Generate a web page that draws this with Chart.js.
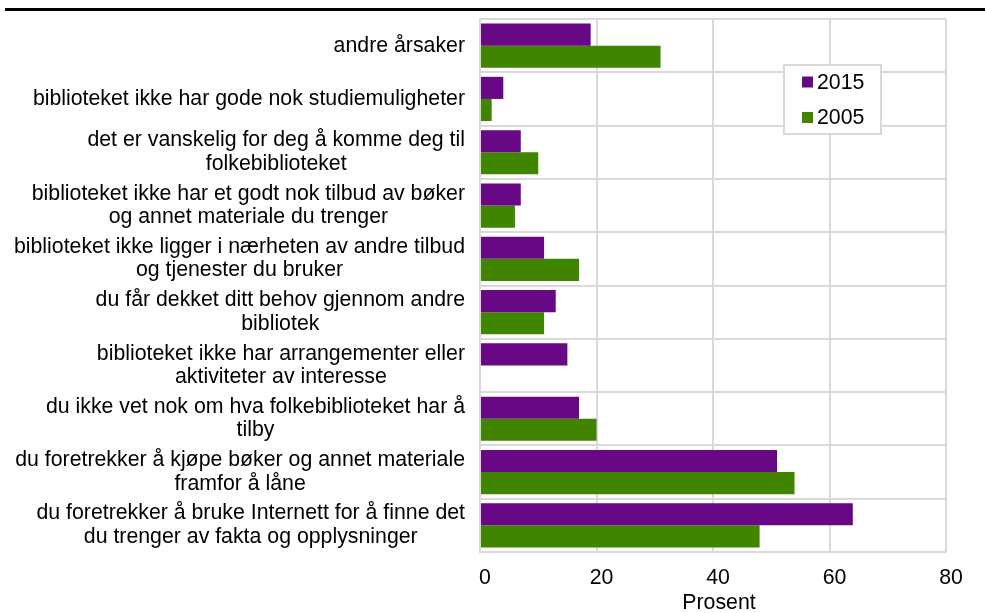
<!DOCTYPE html>
<html>
<head>
<meta charset="utf-8">
<script src="https://cdn.jsdelivr.net/npm/chart.js@4/dist/chart.umd.min.js"></script>
<style>
html,body{margin:0;padding:0;background:#fff;}
canvas{display:block;}
</style>
</head>
<body>
<canvas id="c" width="985" height="613"></canvas>
<script>
const categories = [
  ['andre årsaker'],
  ['biblioteket ikke har gode nok studiemuligheter'],
  ['det er vanskelig for deg å komme deg til', 'folkebiblioteket'],
  ['biblioteket ikke har et godt nok tilbud av bøker', 'og annet materiale du trenger'],
  ['biblioteket ikke ligger i nærheten av andre tilbud', 'og tjenester du bruker'],
  ['du får dekket ditt behov gjennom andre', 'bibliotek'],
  ['biblioteket ikke har arrangementer eller', 'aktiviteter av interesse'],
  ['du ikke vet nok om hva folkebiblioteket har å', 'tilby'],
  ['du foretrekker å kjøpe bøker og annet materiale', 'framfor å låne'],
  ['du foretrekker å bruke Internett for å finne det', 'du trenger av fakta og opplysninger']
];
const seriesNames = ['2015', '2005'];
const values2015 = [19, 4, 7, 7, 11, 13, 15, 17, 51, 64];
const values2005 = [31, 2, 10, 6, 17, 11, null, 20, 54, 48];
const xTicks = [0, 20, 40, 60, 80];
const axisTitle = 'Prosent';

const PURPLE = '#680884';
const GREEN = '#408400';
const GRID = '#d9d9d9';
const FONT = "'Liberation Sans', Arial, sans-serif";
const FS = 21.3;

const topRulePlugin = {
  id: 'topRule',
  beforeDraw(chart) {
    const ctx = chart.ctx;
    ctx.save();
    ctx.fillStyle = '#000';
    ctx.fillRect(5, 8, 980, 3);
    ctx.restore();
  }
};

const yLabelPlugin = {
  id: 'yLabels',
  afterDraw(chart) {
    const ctx = chart.ctx;
    const ys = chart.scales.y;
    const right = chart.chartArea.left - 15;
    const lh = 23.5;
    ctx.save();
    ctx.font = FS + 'px ' + FONT;
    ctx.fillStyle = '#000';
    ctx.textAlign = 'center';
    ctx.textBaseline = 'middle';
    categories.forEach((lines, i) => {
      const cy = ys.getPixelForTick(i);
      let w = 0;
      lines.forEach(l => { w = Math.max(w, ctx.measureText(l).width); });
      const cx = right - w / 2;
      const y0 = cy - (lines.length - 1) * lh / 2;
      lines.forEach((l, k) => ctx.fillText(l, cx, y0 + k * lh));
    });
    // x-axis title
    const ca = chart.chartArea;
    ctx.fillText(axisTitle, (ca.left + ca.right) / 2 + 6, 603);
    ctx.restore();
  }
};

const legendPlugin = {
  id: 'boxLegend',
  afterDraw(chart) {
    const ctx = chart.ctx;
    ctx.save();
    ctx.fillStyle = '#fff';
    ctx.fillRect(784, 65, 97, 69);
    ctx.strokeStyle = GRID;
    ctx.lineWidth = 2;
    ctx.strokeRect(784, 65, 97, 69);
    ctx.font = FS + 'px ' + FONT;
    ctx.textBaseline = 'middle';
    ctx.textAlign = 'left';
    const items = [[seriesNames[0], PURPLE, 82], [seriesNames[1], GREEN, 117.5]];
    items.forEach(([t, c, y]) => {
      ctx.fillStyle = c;
      ctx.fillRect(802, y - 5.5, 11, 11);
      ctx.fillStyle = '#000';
      ctx.fillText(t, 817, y + 1);
    });
    ctx.restore();
  }
};

new Chart(document.getElementById('c'), {
  type: 'bar',
  data: {
    labels: categories,
    datasets: [
      { label: seriesNames[0], data: values2015, backgroundColor: PURPLE, categoryPercentage: 0.83, barPercentage: 1.0 },
      { label: seriesNames[1], data: values2005, backgroundColor: GREEN, categoryPercentage: 0.83, barPercentage: 1.0 }
    ]
  },
  options: {
    indexAxis: 'y',
    responsive: false,
    animation: false,
    devicePixelRatio: 1,
    layout: { padding: { top: 19, right: 39, bottom: 0, left: 0 } },
    plugins: { legend: { display: false }, tooltip: { enabled: false } },
    scales: {
      y: {
        ticks: { display: false },
        grid: { color: GRID, lineWidth: 2, drawTicks: false },
        border: { color: GRID, width: 2 },
        afterFit(scale) { scale.width = 480; }
      },
      x: {
        min: xTicks[0],
        max: xTicks[xTicks.length - 1],
        afterBuildTicks(scale) { scale.ticks = xTicks.map(v => ({ value: v })); },
        ticks: { color: '#000', font: { family: FONT, size: FS }, padding: 13, labelOffset: 5 },
        grid: { color: GRID, lineWidth: 2, drawTicks: false },
        border: { color: GRID, width: 2 },
        title: { display: false },
        afterFit(scale) { scale.height = 61; }
      }
    }
  },
  plugins: [topRulePlugin, yLabelPlugin, legendPlugin]
});
</script>
</body>
</html>
